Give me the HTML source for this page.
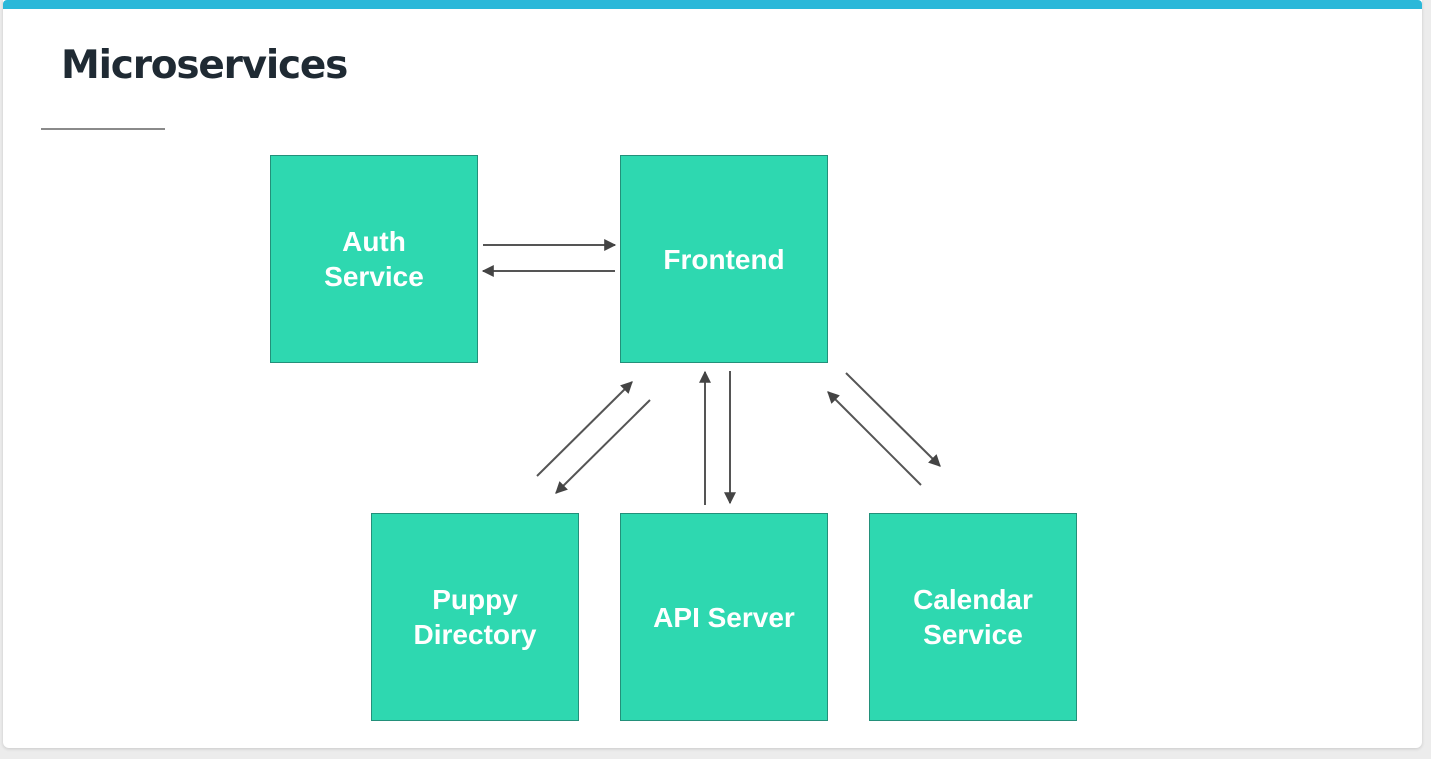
<!DOCTYPE html>
<html><head><meta charset="utf-8"><style>
html,body{margin:0;padding:0;width:1431px;height:759px;overflow:hidden;background:#ececec;}
.card{position:absolute;left:3px;top:0;width:1419px;height:748px;background:#fff;border-radius:0 0 6px 6px;box-shadow:0 1px 3px rgba(0,0,0,.15);}
.bar{position:absolute;left:3px;top:0;width:1419px;height:9px;background:#2bb8d9;border-radius:4px 4px 0 0;}
h1{position:absolute;left:61px;top:43px;margin:0;font:bold 39px "DejaVu Sans","Liberation Sans",sans-serif;color:#1f2a33;letter-spacing:-1.2px;}
.rule{position:absolute;left:41px;top:128px;width:124px;height:2px;background:#8a8a8a;}
.b{position:absolute;width:206px;height:206px;background:#2ed8b0;border:1px solid #23907a;display:flex;align-items:center;justify-content:center;text-align:center;color:#fff;font:bold 28px/35px "Liberation Sans",sans-serif;}
</style></head><body>
<div class="card"></div><div class="bar"></div>
<h1>Microservices</h1><div class="rule"></div>
<div class="b" style="left:270px;top:155px;">Auth<br>Service</div>
<div class="b" style="left:620px;top:155px;">Frontend</div>
<div class="b" style="left:371px;top:513px;">Puppy<br>Directory</div>
<div class="b" style="left:620px;top:513px;">API Server</div>
<div class="b" style="left:869px;top:513px;">Calendar<br>Service</div>
<svg width="1431" height="759" style="position:absolute;left:0;top:0">
<defs><marker id="a" viewBox="0 0 10 10" refX="9" refY="5" markerWidth="7" markerHeight="6" orient="auto"><path d="M0,0L10,5L0,10z" fill="#444"/></marker></defs>
<g stroke="#555" stroke-width="2" marker-end="url(#a)">
<line x1="483" y1="245" x2="615" y2="245"/>
<line x1="615" y1="271" x2="483" y2="271"/>
<line x1="537" y1="476" x2="632" y2="382"/>
<line x1="650" y1="400" x2="556" y2="493"/>
<line x1="705" y1="505" x2="705" y2="372"/>
<line x1="730" y1="371" x2="730" y2="503"/>
<line x1="846" y1="373" x2="940" y2="466"/>
<line x1="921" y1="485" x2="828" y2="392"/>
</g></svg>
</body></html>
